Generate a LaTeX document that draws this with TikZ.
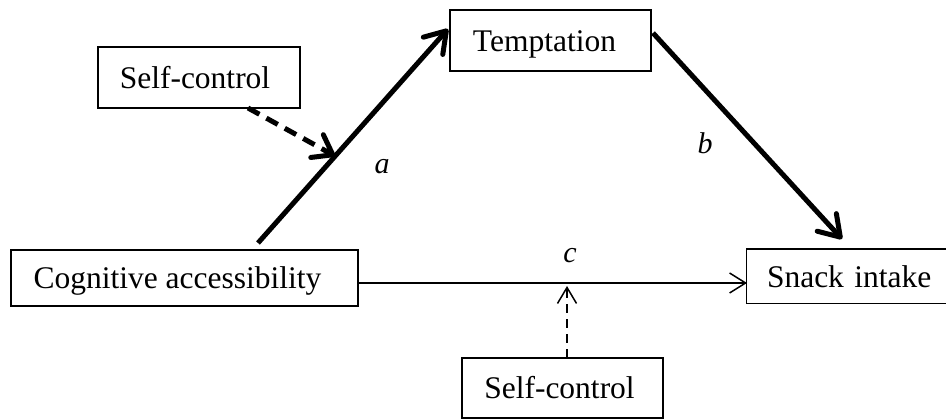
\documentclass[tikz,border=0pt]{standalone}
\usepackage{fontspec}
\setmainfont{Liberation Serif}
\usetikzlibrary{arrows.meta}
\begin{document}
\begin{tikzpicture}[x=1pt,y=1pt,
  box/.style={draw,line width=1.5pt,inner sep=0pt,text height=22pt,text depth=0pt,font=\fontsize{31.5}{36}\selectfont},
  openbox/.style={line width=1.5pt,inner sep=0pt,text height=22pt,text depth=0pt,font=\fontsize{31.5}{36}\selectfont},
  thickarr/.style={line width=5pt,-{Straight Barb[length=20pt,width=26pt,line width=5pt,round]}},
  thinarr/.style={line width=1.5pt,-{Straight Barb[length=16pt,width=20pt,line width=1.5pt]}},
  dashthick/.style={line width=5pt,dash pattern=on 13pt off 8pt,-{Straight Barb[length=18pt,width=26pt,line width=5pt,round]}},
  dashthin/.style={line width=1.5pt,dash pattern=on 9pt off 6pt,-{Straight Barb[length=16pt,width=19pt,line width=1.5pt]}},
  lab/.style={font=\fontsize{30}{34}\selectfont\itshape}]
\useasboundingbox (0,0) rectangle (946,419);
\node[box,minimum width=201pt,minimum height=61pt] (tempt) at (550.5,378.5) {\hspace*{-12pt}Temptation};
\node[box,minimum width=202pt,minimum height=61pt] (sctop) at (199,341.5) {\hspace*{-8pt}Self-control};
\node[box,minimum width=347pt,minimum height=56pt] (cog) at (184.5,141) {\hspace*{-14pt}Cognitive accessibility};
\node[openbox,minimum width=210pt,minimum height=53pt,text width=210pt,align=left] (snack) at (852,142.5) {\hspace{20pt}Snack intake};
\draw[line width=1.5pt] (snack.north east) -- (snack.north west) -- (snack.south west) -- (snack.south east);
\node[box,minimum width=201pt,minimum height=60pt] (scbot) at (562.5,31) {\hspace*{-6pt}Self-control};
\coordinate (aS) at (258,176);
\coordinate (aE) at (448,390);
\coordinate (bS) at (653,386);
\coordinate (bE) at (842,180);
\coordinate (dS) at (248,311);
\coordinate (dE) at (335,263);
\coordinate (cS) at (358,136);
\coordinate (cE) at (747,136);
\coordinate (eS) at (567,61);
\coordinate (eE) at (567,133);
\draw[thickarr] (aS) -- (aE);
\draw[thickarr] (bS) -- (bE);
\draw[dashthick] (dS) -- (dE);
\draw[thinarr] (cS) -- (cE);
\draw[dashthin] (eS) -- (eE);
\node[lab] (la) at (382,252) {a};
\node[lab] (lb) at (705,276) {b};
\node[lab] (lc) at (570,163) {c};
\end{tikzpicture}
\end{document}
